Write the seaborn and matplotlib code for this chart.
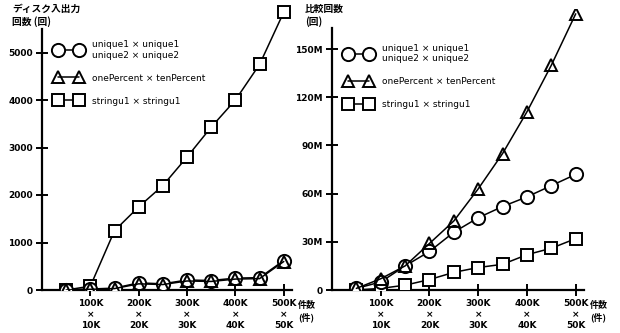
import numpy as np
import pandas as pd
import matplotlib
matplotlib.use('Agg')
import matplotlib.pyplot as plt
import seaborn as sns
from matplotlib.ticker import FuncFormatter

# 件数 (外側の件数, K)
SIZES = [50, 100, 150, 200, 250, 300, 350, 400, 450, 500]

# ディスク入出力回数
IO_UNIQUE = [0, 20, 40, 150, 130, 210, 200, 250, 260, 620]
IO_PERCENT = [0, 15, 30, 130, 115, 190, 180, 230, 240, 600]
IO_STRING = [0, 80, 1250, 1750, 2200, 2800, 3430, 4000, 4750, 5850]

# 比較回数 (M)
CMP_UNIQUE = [1, 5, 15, 24, 36, 45, 52, 58, 65, 72]
CMP_PERCENT = [1, 7, 15, 29, 43, 63, 85, 111, 140, 172]
CMP_STRING = [0, 1, 3, 6.5, 11, 14, 16, 22, 26, 32]

LABELS = ['unique1 × unique1\nunique2 × unique2',
          'onePercent × tenPercent',
          'stringu1 × stringu1']
MARKERS = ['o', '^', 's']
SIZES_MK = [9.5, 9, 9]

XTICKS = [100, 200, 300, 400, 500]
XTICK_LABELS = ['100K\n×\n10K', '200K\n×\n20K', '300K\n×\n30K',
                '400K\n×\n40K', '500K\n×\n50K']

sns.set_style('ticks', {'axes.edgecolor': 'black', 'text.color': 'black',
                        'xtick.color': 'black', 'ytick.color': 'black',
                        'axes.labelcolor': 'black'})
plt.rcParams['font.family'] = ['DejaVu Sans', 'Noto Sans CJK JP']
JP = ['Noto Sans CJK JP', 'DejaVu Sans']


def draw_panel(ax, series, ymax, spine_top, yticks, yfmt):
    # 四角を先に描き、丸・三角を上に重ねる
    for idx in [2, 0, 1]:
        df = pd.DataFrame({'n': SIZES, 'v': series[idx]})
        sns.lineplot(data=df, x='n', y='v', ax=ax, color='black', lw=1.1,
                     marker=MARKERS[idx], markersize=SIZES_MK[idx],
                     markerfacecolor='white' if idx != 1 else 'none',
                     markeredgecolor='black',
                     markeredgewidth=1.4, label=LABELS[idx])
    h, l = ax.get_legend_handles_labels()
    order = [l.index(t) for t in LABELS]
    ax.legend([h[i] for i in order], LABELS, loc='upper left',
              bbox_to_anchor=(0.02, 0.905), frameon=False, numpoints=2,
              handlelength=2.9, fontsize=6.5, labelspacing=1.55,
              handletextpad=1.2, labelcolor='black')

    ax.set_xlim(0, 517)
    ax.set_ylim(0, ymax)
    ax.spines['top'].set_visible(False)
    ax.spines['right'].set_visible(False)
    ax.spines['left'].set_bounds(0, spine_top)
    ax.spines['left'].set_linewidth(1.6)
    ax.spines['bottom'].set_linewidth(1.6)
    ax.spines['left'].set_zorder(0.5)
    ax.spines['bottom'].set_zorder(0.5)
    ax.set_xticks(XTICKS)
    ax.set_xticklabels(XTICK_LABELS, fontsize=6.5, fontweight='bold',
                       linespacing=1.25)
    ax.set_yticks(yticks)
    ax.yaxis.set_major_formatter(FuncFormatter(yfmt))
    for t in ax.get_yticklabels():
        t.set_fontsize(6.5)
        t.set_fontweight('bold')
    ax.tick_params(direction='inout', length=9, width=1.4, pad=2,
                   colors='black')
    ax.set_xlabel('')
    ax.set_ylabel('')


fig = plt.figure(figsize=(6.2, 3.33), dpi=100)
ax1 = fig.add_axes([42 / 620, 1 - 290 / 333, 250 / 620, 285 / 333])
ax2 = fig.add_axes([332 / 620, 1 - 290 / 333, 252 / 620, 281 / 333])

draw_panel(ax1, [IO_UNIQUE, IO_PERCENT, IO_STRING], 6000, 5500,
           [0, 1000, 2000, 3000, 4000, 5000], lambda v, p: f'{int(v)}')
draw_panel(ax2, [CMP_UNIQUE, CMP_PERCENT, CMP_STRING], 175, 163,
           [0, 30, 60, 90, 120, 150],
           lambda v, p: '0' if v == 0 else f'{int(v)}M')

fig.text(12 / 620, 1 - 4 / 333, 'ディスク入出力\n回数 (回)', family=JP,
         fontsize=7, fontweight='bold', va='top', ha='left', linespacing=1.3)
fig.text(305 / 620, 1 - 4 / 333, '比較回数\n(回)', family=JP,
         fontsize=7, fontweight='bold', va='top', ha='left', linespacing=1.3)
fig.text(298 / 620, 1 - 312 / 333, '件数\n(件)', family=JP,
         fontsize=6.5, fontweight='bold', va='center', ha='left', linespacing=1.3)
fig.text(590 / 620, 1 - 312 / 333, '件数\n(件)', family=JP,
         fontsize=6.5, fontweight='bold', va='center', ha='left', linespacing=1.3)

fig.savefig('out.png', dpi=100, facecolor='white')
